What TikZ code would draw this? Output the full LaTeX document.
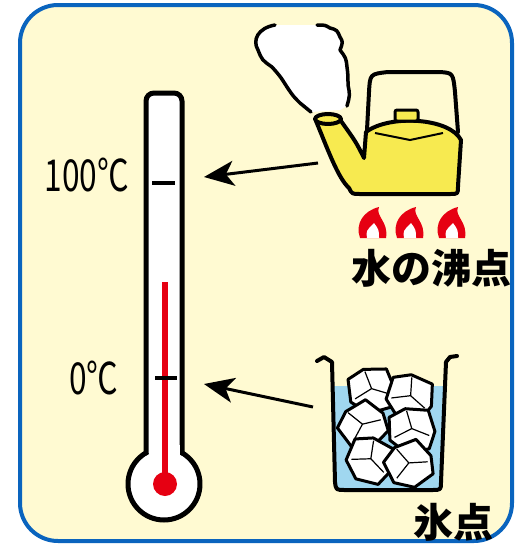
\documentclass[tikz,border=0pt]{standalone}
\usepackage{fontspec}
\newfontfamily\jpfont{Noto Sans CJK JP}
\usepackage{tikz}
\usetikzlibrary{arrows.meta}
\usetikzlibrary{positioning}
\definecolor{paper}{RGB}{255,250,210}
\definecolor{frameblue}{RGB}{10,100,190}
\definecolor{potyellow}{RGB}{247,234,80}
\definecolor{flamered}{RGB}{230,0,18}
\definecolor{water}{RGB}{160,215,240}
\tikzstyle{outline}=[draw=black,line width=4,line join=round,line cap=round]
\tikzstyle{cube}=[draw=black,fill=white,line width=3,line join=round]
\tikzstyle{crack}=[draw=black,line width=1.2]
\tikzstyle{tick}=[draw=black,line width=3.5]
\tikzstyle{edge}=[draw,line width=3,-{Stealth[length=30pt,width=25pt,inset=8pt]}]
\tikzstyle{temp}=[font=\jpfont\fontsize{44}{44}\selectfont,xscale=0.72,inner sep=0pt]
\tikzstyle{caption}=[font=\jpfont\bfseries\fontsize{40}{40}\selectfont,inner sep=0pt]

\begin{document}
\begin{tikzpicture}[x=1pt,y=-1pt]
  \useasboundingbox (0,0) rectangle (519,549);

  % card
  \draw[fill=paper,draw=frameblue,line width=4,rounded corners=38] (20,5) rectangle (512,541);

  % thermometer
  \draw[outline,line width=5,fill=white] (164,484) circle (36);
  \draw[outline,line width=5,fill=white,rounded corners=8] (146,453) -- (146,93) -- (182,93) -- (182,453);
  \fill[white] (148.5,445) rectangle (179.5,462);
  \draw[flamered,line width=6] (165,282) -- (165,478);
  \fill[flamered] (165,484) circle (12);
  \draw[tick] (152,183) -- (175,183);
  \draw[tick] (155,378) -- (177,378);
  \coordinate (boil) at (204,177);
  \coordinate (melt) at (204,384);
  \node[temp] (t100) at (87,175) {100℃};
  \node[temp] (t0) at (94,378) {0℃};

  % steam
  \fill[white] (275,25) .. controls (258,28) and (252,40) .. (258,50)
    .. controls (262,60) .. (272,67) .. controls (280,76) .. (287,87)
    .. controls (293,96) .. (300,103) .. controls (305,108) .. (311,112)
    -- (340,110) -- (347,106) .. controls (350,95) .. (348,85)
    .. controls (348,75) .. (347,67) .. controls (346,58) .. (340,50)
    .. controls (343,42) .. (340,37) .. controls (337,30) .. (330,28)
    .. controls (325,25) .. (317,25) -- cycle;
  \draw[outline,line width=3.5] (275,25) .. controls (258,28) and (252,40) .. (258,50)
    .. controls (262,60) .. (272,67) .. controls (280,76) .. (287,87)
    .. controls (293,96) .. (300,103) .. controls (305,108) .. (311,112);
  \draw[outline,line width=3.5] (347,106) .. controls (350,95) .. (348,85)
    .. controls (348,75) .. (347,67) .. controls (346,58) .. (340,50)
    .. controls (343,42) .. (340,37) .. controls (337,30) .. (330,28)
    .. controls (325,25) .. (317,25);

  % kettle
  \draw[outline] (367,130) -- (369,92) .. controls (370,74) .. (388,72)
    -- (440,72) .. controls (453,73) .. (455,92) -- (458,132);
  \draw[outline,fill=potyellow] (316,121) .. controls (328,150) and (338,178) .. (349,188)
    .. controls (352,194) .. (360,194) -- (450,194) .. controls (458,194) .. (458,186)
    -- (461,140) .. controls (450,118) and (390,114) .. (366,132)
    -- (364,158) .. controls (356,142) .. (341,121) -- cycle;
  \draw[outline,fill=potyellow] (328,119) ellipse (13 and 5);
  \draw[black,line width=2] (375,133) -- (410,140) -- (443,133);
  \draw[outline,line width=3,fill=potyellow,rounded corners=2] (395,110) rectangle (418,121);
  \coordinate (kettle) at (318,163);

  % burner
  \foreach \fx in {373,410,452}
  {
    \fill[flamered,shift={(\fx,238)}] (-13,0) .. controls (-18,-14) and (-10,-27) .. (6,-31)
      .. controls (2,-22) and (16,-16) .. (13,0) -- cycle;
    \fill[white,shift={(\fx,238)}] (-6,0) .. controls (-7,-7) .. (1,-15)
      .. controls (6,-8) .. (6,0) -- cycle;
  }
  \node[caption] (boil-label) at (431,268) {水の沸点};

  % glass of ice water
  \fill[water] (334,386) -- (443,386) -- (441,482) .. controls (441,490) .. (432,490)
    -- (345,490) .. controls (336,490) .. (335,482) -- cycle;
  \foreach \cx/\cy/\ang in {372/391/10, 410/398/-15, 364/426/40, 412/431/5, 370/461/-20, 410/465/30}
  {
    \draw[cube,shift={(\cx,\cy)},rotate=\ang,scale=1.2] (-18,-13) -- (-4,-19) -- (15,-16) -- (19,2)
      -- (13,16) -- (-6,18) -- (-19,6) -- cycle;
    \draw[crack,shift={(\cx,\cy)},rotate=\ang,scale=1.2] (-3,-17) -- (0,-2) -- (14,5) (0,-2) -- (-15,4);
  }
  \draw[outline] (317,361) -- (324,357) -- (332,362) -- (335,482)
    .. controls (336,490) .. (345,490) -- (432,490) .. controls (441,490) .. (441,482)
    -- (446,362) -- (450,357) -- (457,356);
  \coordinate (glass) at (313,407);
  \node[caption] (ice-label) at (453,522) {氷点};

  \path[edge] (kettle) -- (boil);
  \path[edge] (glass) -- (melt);
\end{tikzpicture}
\end{document}
